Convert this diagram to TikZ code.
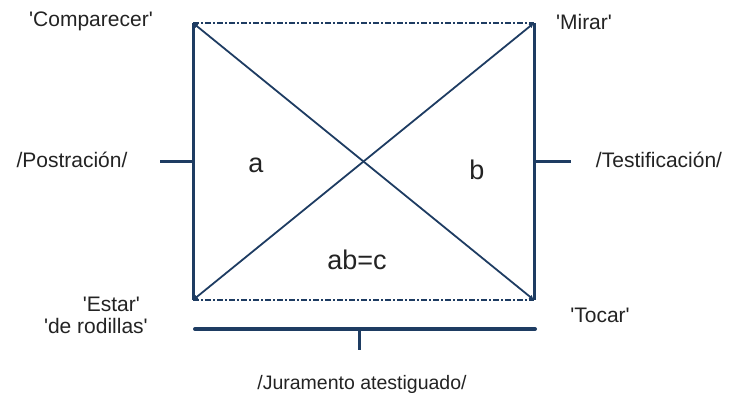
\documentclass[tikz,border=0pt]{standalone}
\usepackage{fontspec}
\setmainfont{Liberation Sans}
\usetikzlibrary{arrows.meta}
\definecolor{navy}{RGB}{30,60,98}
\definecolor{ink}{RGB}{35,35,35}
\newcommand\qq{\textquotesingle}

\tikzset{
  side/.style={draw=navy,line width=3pt},
  rim/.style={draw=navy,line width=1.6pt,dash pattern=on 6pt off 2pt on 2pt off 2pt},
  diag/.style={draw=navy,line width=1.8pt,{Latex[length=5pt,width=5pt]}-{Latex[length=5pt,width=5pt]}},
  tick/.style={draw=navy,line width=3pt},
  lab/.style={inner sep=0pt,text=ink,font=\fontsize{21}{25}\selectfont},
  big/.style={inner sep=0pt,text=ink,font=\fontsize{27}{31}\selectfont}
}

\begin{document}
\begin{tikzpicture}[x=1pt,y=-1pt]
\useasboundingbox (0,0) rectangle (731,396);
% corners of the square
\coordinate (tl) at (193,23);
\coordinate (tr) at (534,23);
\coordinate (bl) at (193,300);
\coordinate (br) at (534,300);
% ticks
\coordinate (lt) at (160,161);
\coordinate (lm) at (193,161);
\coordinate (rm) at (534,161);
\coordinate (rt) at (571,161);
\coordinate (bb1) at (195,329);
\coordinate (bb2) at (535,329);
\coordinate (bm) at (359,329);
\coordinate (bd) at (359,350);

\draw[rim] (tl) -- (tr);
\draw[rim] (bl) -- (br);
\draw[side] (tl) -- (bl);
\draw[side] (tr) -- (br);
\draw[diag] (tl) -- (br);
\draw[diag] (bl) -- (tr);
\draw[tick] (lt) -- (lm);
\draw[tick] (rm) -- (rt);
\draw[tick,line width=4pt,line cap=round] (bb1) -- (bb2);
\draw[tick] (bm) -- (bd);

\node[lab] (comparecer) at (91,21) {\qq Comparecer\qq};
\node[lab] (mirar) at (584,22) {\qq Mirar\qq};
\node[lab] (postracion) at (72,160) {/Postración/};
\node[lab] (testif) at (659,160) {/Testificación/};
\node[lab,anchor=east] (estar) at (140,304) {\qq Estar\qq};
\node[lab,anchor=east] (rodillas) at (148,326) {\qq de rodillas\qq};
\node[lab] (tocar) at (600,315) {\qq Tocar\qq};
\node[lab,font=\fontsize{19.5}{23}\selectfont] (juramento) at (362,384) {/Juramento atestiguado/};
\node[big] (a) at (256,165) {a};
\node[big] (b) at (477,170) {b};
\node[big] (c) at (357,260) {ab=c};
\end{tikzpicture}
\end{document}
